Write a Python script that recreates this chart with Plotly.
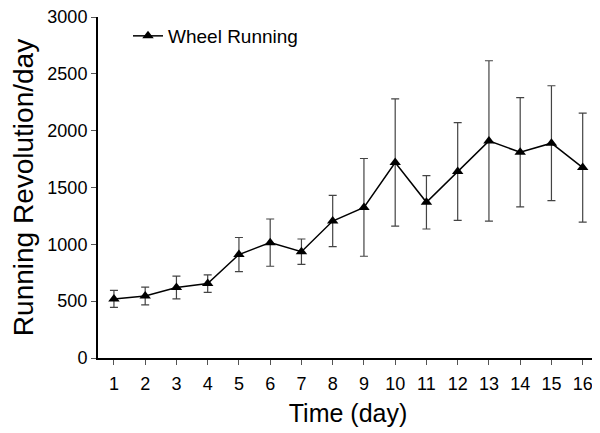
import plotly.graph_objects as go

days = list(range(1, 17))
revolutions = [520, 545, 620, 655, 910, 1015, 935, 1205, 1325, 1720, 1370, 1640, 1910, 1810, 1890, 1675]
err = [75, 78, 100, 77, 150, 208, 112, 225, 430, 560, 235, 430, 705, 480, 505, 480]
x_ticks = [str(d) for d in days]
y_ticks = [0, 500, 1000, 1500, 2000, 2500, 3000]

fig = go.Figure()
fig.add_trace(go.Scatter(
    x=days, y=revolutions, mode="lines+markers", name="Wheel Running",
    line=dict(color="black", width=1.5),
    marker=dict(symbol="triangle-up", size=10, color="black"),
    error_y=dict(type="data", array=err, visible=True, color="#444444", thickness=1.2, width=4),
))

fig.update_layout(
    width=592, height=425,
    margin=dict(l=90, r=2, t=9, b=75),
    paper_bgcolor="white", plot_bgcolor="white",
    font=dict(family="Liberation Sans, Arial", color="black"),
    showlegend=True,
    legend=dict(x=0.06, y=1.0, xanchor="left", yanchor="top", font=dict(size=19),
                bgcolor="rgba(0,0,0,0)"),
    xaxis=dict(
        range=[0.49, 16.49], tickmode="array", tickvals=days, ticktext=x_ticks,
        showline=True, linecolor="black", linewidth=2, ticks="outside", ticklen=5,
        tickcolor="#555555", tickfont=dict(size=18), showgrid=False, zeroline=False,
        ticklabelstandoff=3,
        title=dict(text="Time (day)", font=dict(size=25), standoff=12),
    ),
    yaxis=dict(
        range=[0, 3000], tickmode="array", tickvals=y_ticks,
        showline=True, linecolor="black", linewidth=2, ticks="outside", ticklen=5,
        tickcolor="#555555", tickfont=dict(size=18), showgrid=False, zeroline=False,
        automargin=False, ticklabeloverflow="allow",
        title=dict(text="Running Revolution/day", font=dict(size=28)),
    ),
)

fig.write_html("out.html")
